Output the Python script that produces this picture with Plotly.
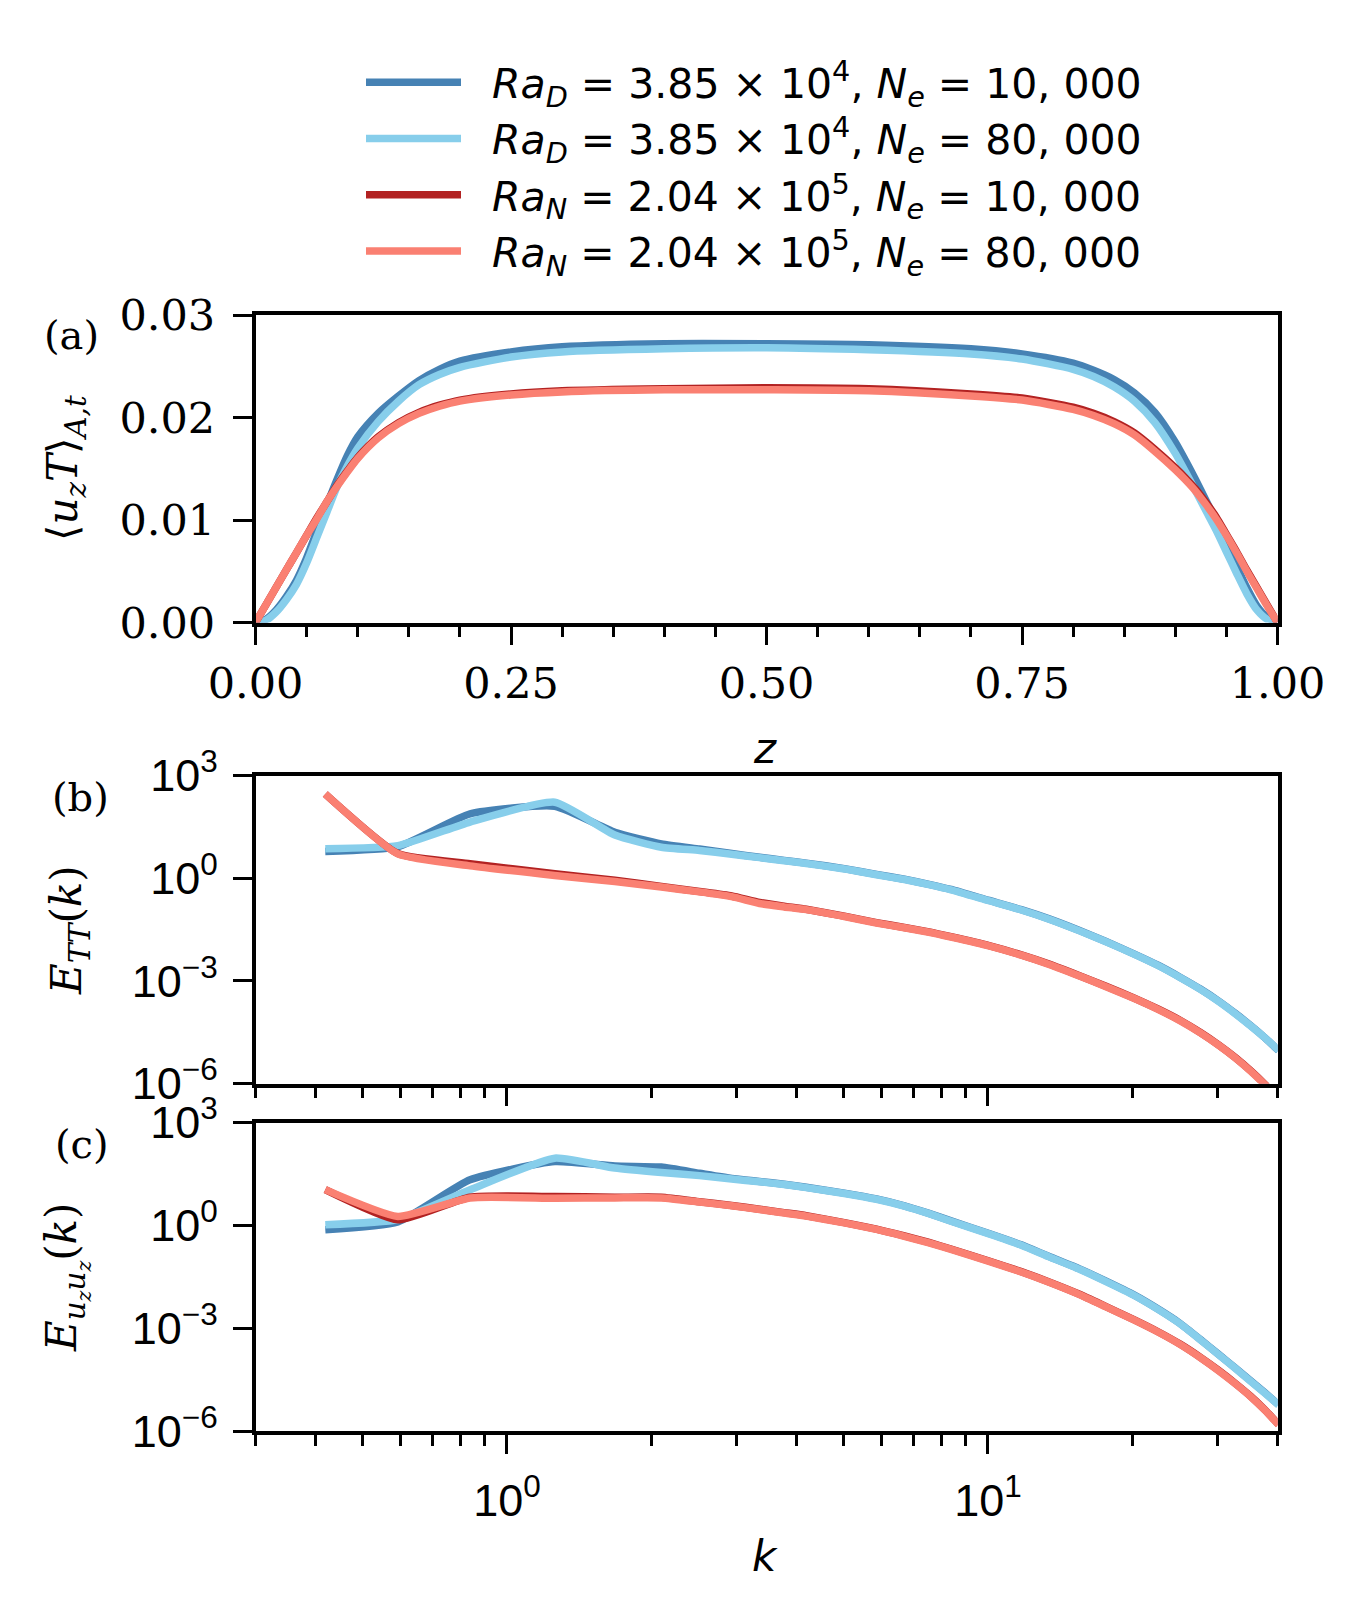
import numpy as np
import plotly.graph_objects as go

# ---------------- data ----------------
# panel (a): heat flux profile vs z
z = [0, 0.01, 0.02, 0.03, 0.04, 0.05, 0.06, 0.07, 0.08, 0.09, 0.10, 0.12, 0.14, 0.16, 0.18,
     0.20, 0.25, 0.30, 0.40, 0.50, 0.60, 0.70, 0.75, 0.80, 0.82, 0.84, 0.86, 0.88, 0.90,
     0.91, 0.92, 0.93, 0.94, 0.95, 0.96, 0.97, 0.98, 0.99, 1.0]
flux_D_10k = [0, .0003, .0012, .0025, .0041, .0063, .0089, .0115, .0140, .0163, .0181, .0204,
              .0221, .0236, .0247, .0255, .0264, .0269, .0272, .0272, .0271, .0267, .0262,
              .0253, .0246, .0237, .0224, .0205, .0176, .0158, .0139, .0119, .0099, .0077,
              .0055, .0034, .0016, .0005, 0]
flux_D_80k = [0, .0002, .0010, .0022, .0037, .0058, .0083, .0108, .0133, .0153, .0170, .0196,
              .0216, .0232, .0242, .0249, .0259, .0264, .0267, .0268, .0266, .0262, .0257,
              .0247, .0240, .0230, .0216, .0195, .0165, .0147, .0128, .0109, .0090, .0069,
              .0048, .0028, .0012, .0003, 0]
flux_N_10k = [0, .0017, .0034, .0051, .0068, .0085, .0102, .0118, .0134, .0148, .0161, .0181,
              .0195, .0205, .0212, .0217, .0223, .0226, .0228, .0229, .0228, .0223, .0219,
              .0210, .0204, .0196, .0185, .0169, .0151, .0141, .0130, .0117, .0103, .0086,
              .0069, .0051, .0034, .0017, 0]
flux_N_80k = [0, .0017, .0034, .0051, .0068, .0085, .0101, .0118, .0133, .0147, .0160, .0180,
              .0194, .0204, .0211, .0216, .0222, .0225, .0227, .0227, .0226, .0221, .0217,
              .0208, .0202, .0194, .0183, .0167, .0149, .0139, .0128, .0115, .0101, .0085,
              .0068, .0050, .0033, .0016, 0]

# panels (b),(c): spectra vs k  (values given as log10)
k = [0.419, 0.593, 0.838, 1.257, 1.676, 2.094, 2.513, 2.932, 3.351, 3.770, 4.189, 5.027,
     5.864, 6.702, 7.540, 8.378, 10.05, 11.73, 13.40, 15.50, 17.60, 20.11, 22.62, 25.13,
     27.65, 30.16, 32.67, 35.19, 37.70, 40.21]

ett_D_10k = [0.78, 0.92, 1.88, 2.10, 1.34, 1.00, 0.85, 0.72, 0.61, 0.52, 0.44, 0.28, 0.11,
             -0.03, -0.18, -0.33, -0.65, -0.92, -1.19, -1.53, -1.85, -2.21, -2.55, -2.90,
             -3.24, -3.59, -3.95, -4.31, -4.67, -5.04]
ett_D_80k = [0.86, 0.95, 1.64, 2.22, 1.26, 0.905, 0.81, 0.70, 0.60, 0.51, 0.43, 0.27, 0.10,
             -0.04, -0.19, -0.34, -0.66, -0.93, -1.20, -1.54, -1.86, -2.22, -2.56, -2.91,
             -3.25, -3.60, -3.96, -4.32, -4.67, -5.03]
ett_N_10k = [2.46, 0.72, 0.42, 0.13, -0.06, -0.24, -0.39, -0.52, -0.71, -0.82, -0.91, -1.11,
             -1.30, -1.44, -1.57, -1.71, -1.97, -2.24, -2.51, -2.85, -3.16, -3.50, -3.83,
             -4.16, -4.51, -4.87, -5.24, -5.63, -6.03, -6.45]
ett_N_80k = [2.46, 0.71, 0.36, 0.08, -0.10, -0.26, -0.40, -0.54, -0.74, -0.84, -0.92, -1.12,
             -1.31, -1.45, -1.58, -1.72, -1.98, -2.25, -2.52, -2.86, -3.17, -3.51, -3.84,
             -4.17, -4.52, -4.88, -5.25, -5.64, -6.04, -6.46]

euu_D_10k = [-0.13, 0.10, 1.33, 1.86, 1.73, 1.70, 1.52, 1.37, 1.28, 1.20, 1.11, 0.94, 0.77,
             0.57, 0.35, 0.13, -0.24, -0.57, -0.91, -1.27, -1.63, -2.03, -2.45, -2.87,
             -3.33, -3.76, -4.16, -4.54, -4.89, -5.23]
euu_D_80k = [0.02, 0.17, 1.04, 1.96, 1.67, 1.54, 1.45, 1.35, 1.27, 1.19, 1.10, 0.93, 0.76,
             0.56, 0.34, 0.12, -0.25, -0.58, -0.92, -1.28, -1.64, -2.04, -2.46, -2.88,
             -3.34, -3.77, -4.17, -4.55, -4.90, -5.24]
euu_N_10k = [1.04, 0.16, 0.82, 0.84, 0.82, 0.82, 0.69, 0.58, 0.47, 0.37, 0.28, 0.08, -0.11,
             -0.31, -0.50, -0.69, -1.04, -1.35, -1.65, -2.01, -2.37, -2.75, -3.11, -3.47,
             -3.85, -4.23, -4.61, -4.99, -5.39, -5.81]
euu_N_80k = [1.04, 0.26, 0.80, 0.79, 0.80, 0.80, 0.68, 0.57, 0.46, 0.36, 0.27, 0.07, -0.12,
             -0.32, -0.51, -0.70, -1.05, -1.36, -1.66, -2.02, -2.38, -2.76, -3.12, -3.48,
             -3.86, -4.24, -4.62, -5.00, -5.40, -5.82]

pad = "\u00a0\u00a0"
names = [
    pad + "<i>Ra</i><sub><i>D</i></sub> = 3.85 × 10<sup>4</sup>, <i>N</i><sub><i>e</i></sub> = 10, 000",
    pad + "<i>Ra</i><sub><i>D</i></sub> = 3.85 × 10<sup>4</sup>, <i>N</i><sub><i>e</i></sub> = 80, 000",
    pad + "<i>Ra</i><sub><i>N</i></sub> = 2.04 × 10<sup>5</sup>, <i>N</i><sub><i>e</i></sub> = 10, 000",
    pad + "<i>Ra</i><sub><i>N</i></sub> = 2.04 × 10<sup>5</sup>, <i>N</i><sub><i>e</i></sub> = 80, 000",
]
colors = ["steelblue", "skyblue", "firebrick", "salmon"]

flux = [flux_D_10k, flux_D_80k, flux_N_10k, flux_N_80k]
ett = [ett_D_10k, ett_D_80k, ett_N_10k, ett_N_80k]
euu = [euu_D_10k, euu_D_80k, euu_N_10k, euu_N_80k]

W, H = 1350, 1600
OFF = 8          # page body margin of the html page
LW = 7.5

def px(x):
    return (x - OFF) / W

def py(y):
    return 1 - (y - OFF) / H

fig = go.Figure()
for i in range(4):
    fig.add_trace(go.Scatter(x=z, y=flux[i], mode="lines", name=names[i],
                             line=dict(color=colors[i], width=LW, shape="spline", smoothing=0.7),
                             xaxis="x", yaxis="y", showlegend=True))
for i in range(4):
    fig.add_trace(go.Scatter(x=k, y=10 ** np.array(ett[i]), mode="lines",
                             line=dict(color=colors[i], width=LW, shape="spline", smoothing=0.5),
                             xaxis="x2", yaxis="y2", showlegend=False))
for i in range(4):
    fig.add_trace(go.Scatter(x=k, y=10 ** np.array(euu[i]), mode="lines",
                             line=dict(color=colors[i], width=LW, shape="spline", smoothing=0.5),
                             xaxis="x3", yaxis="y3", showlegend=False))

serif = "DejaVu Serif"
sans = "DejaVu Sans"
ticksans = "Liberation Sans, Arial, DejaVu Sans"

xdom = [px(255.5), px(1277.5)]
def ydom(top, bot):
    return [py(bot), py(top)]

common = dict(showline=True, linecolor="black", linewidth=3.5, mirror=True,
              showgrid=False, zeroline=False, ticks="outside", ticklen=19,
              tickwidth=3, tickcolor="black")

minor_k = [0.3, 0.4, 0.5, 0.6, 0.7, 0.8, 0.9, 2, 3, 4, 5, 6, 7, 8, 9, 20, 30, 40]
log_labels_y = ["10<sup>−6</sup>", "10<sup>−3</sup>", "10<sup>0</sup>", "10<sup>3</sup>"]

fig.update_layout(
    width=W, height=H, margin=dict(l=0, r=0, t=0, b=0, autoexpand=False),
    paper_bgcolor="white", plot_bgcolor="white",
    xaxis=dict(domain=xdom, anchor="y", range=[0, 1],
               tickvals=[0, 0.25, 0.5, 0.75, 1.0],
               ticktext=["0.00", "0.25", "0.50", "0.75", "1.00"],
               tickfont=dict(family=serif, size=43, color="black"),
               ticklabelstandoff=1,
               minor=dict(tickvals=[0.05, 0.1, 0.15, 0.2, 0.3, 0.35, 0.4, 0.45, 0.55, 0.6,
                                    0.65, 0.7, 0.8, 0.85, 0.9, 0.95],
                          ticks="outside", ticklen=11, tickwidth=3, tickcolor="black"),
               **common),
    yaxis=dict(domain=ydom(315, 622.5), anchor="x", range=[0, 0.03],
               tickvals=[0, 0.01, 0.02, 0.03],
               ticktext=["0.00", "0.01", "0.02", "0.03"],
               tickfont=dict(family=serif, size=43, color="black"),
               ticklabelstandoff=9, **common),
    xaxis2=dict(domain=xdom, anchor="y2", type="log",
                range=[np.log10(0.3), np.log10(40)],
                tickvals=[1, 10], showticklabels=False,
                minor=dict(tickvals=minor_k, ticks="outside", ticklen=11,
                           tickwidth=3, tickcolor="black"),
                **common),
    yaxis2=dict(domain=ydom(775.5, 1083.5), anchor="x2", type="log", range=[-6, 3],
                tickvals=[1e-6, 1e-3, 1, 1e3], ticktext=log_labels_y,
                tickfont=dict(family=ticksans, size=45, color="black"),
                ticklabelstandoff=6, **common),
    xaxis3=dict(domain=xdom, anchor="y3", type="log",
                range=[np.log10(0.3), np.log10(40)],
                tickvals=[1, 10], ticktext=["10<sup>0</sup>", "10<sup>1</sup>"],
                tickfont=dict(family=ticksans, size=45, color="black"),
                ticklabelstandoff=8,
                minor=dict(tickvals=minor_k, ticks="outside", ticklen=11,
                           tickwidth=3, tickcolor="black"),
                **common),
    yaxis3=dict(domain=ydom(1122.5, 1431), anchor="x3", type="log", range=[-6, 3],
                tickvals=[1e-6, 1e-3, 1, 1e3], ticktext=log_labels_y,
                tickfont=dict(family=ticksans, size=45, color="black"),
                ticklabelstandoff=6, **common),
    legend=dict(x=px(361), y=py(49), xanchor="left", yanchor="top",
                font=dict(family=sans, size=41, color="black"),
                itemwidth=95, bgcolor="rgba(0,0,0,0)", tracegroupgap=0),
)

def note(text, x, y, size=40, family=serif, angle=0):
    fig.add_annotation(text=text, x=px(x), y=py(y), xref="paper", yref="paper",
                       showarrow=False, textangle=angle, xanchor="center", yanchor="middle",
                       font=dict(family=family, size=size, color="black"))

note("(a)", 71, 335)
note("(b)", 80, 797)
note("(c)", 82, 1144)
note("<i>z</i>", 765, 748, size=42, family=sans)
note("<i>k</i>", 765, 1556, size=42, family=sans)
note("⟨<i>u<sub>z</sub>T</i>⟩<sub><i>A,t</i></sub>", 66, 468, size=42, angle=-90)
note("<i>E<sub>TT</sub></i>(<i>k</i>)", 69, 930, size=42, angle=-90)
note("<i>E</i><sub><i>u<sub>z</sub>u<sub>z</sub></i></sub>(<i>k</i>)", 66, 1277, size=42, angle=-90)

fig.write_html("out.html")
